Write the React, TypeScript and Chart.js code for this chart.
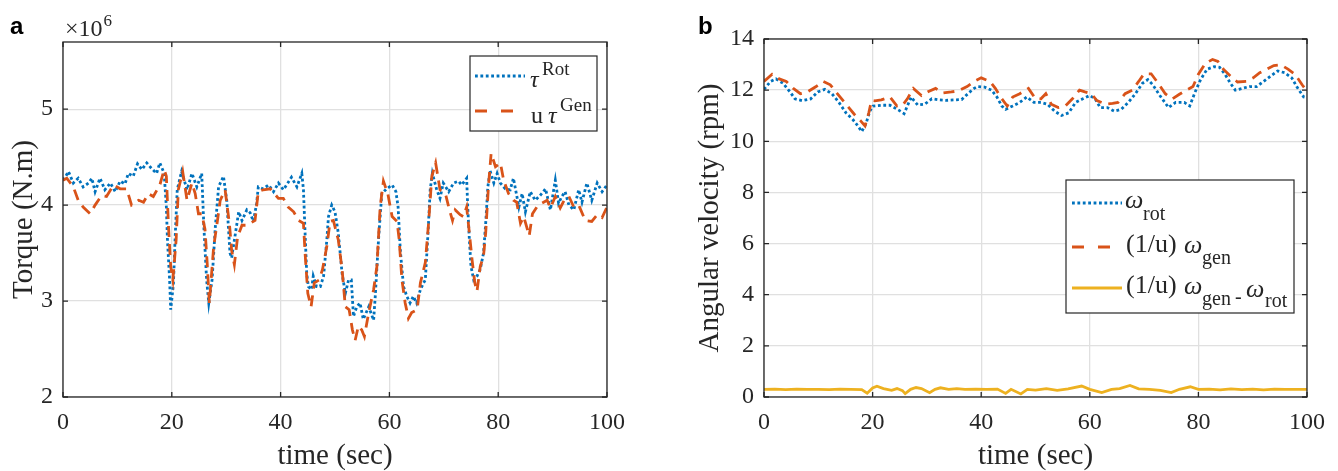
import React, { useEffect, useRef } from "react";
import { Chart, registerables } from "chart.js";

Chart.register(...registerables);

// ---------- data ----------
const timeTicks = [0, 20, 40, 60, 80, 100];
const torqueTicks = [2, 3, 4, 5];
const speedTicks = [0, 2, 4, 6, 8, 10, 12, 14];

// panel a : torque (x1e6 N.m) vs time (sec)
const tauRot: [number, number][] = [
  [0, 4.26], [0.5, 4.3], [1.0, 4.35], [1.9, 4.23], [2.8, 4.28], [3.7, 4.19], [4.7, 4.23], [5.3, 4.28],
  [5.9, 4.14], [6.8, 4.28], [7.7, 4.16], [8.7, 4.23], [9.6, 4.14], [10.5, 4.25], [11.4, 4.22], [12.0, 4.33],
  [12.9, 4.3], [13.7, 4.43], [14.5, 4.37], [15.4, 4.44], [16.3, 4.38], [17.2, 4.33], [17.8, 4.44], [18.6, 4.33],
  [19.0, 3.98], [19.2, 3.64], [19.6, 3.22], [19.8, 2.91], [20.3, 3.18], [20.6, 3.64], [21.0, 4.16], [21.8, 4.35],
  [22.8, 4.16], [23.7, 4.33], [24.6, 4.19], [25.5, 4.33], [25.9, 3.77], [26.4, 3.22], [26.8, 2.98], [27.4, 3.22],
  [28.0, 3.77], [28.6, 4.19], [29.5, 4.3], [30.1, 4.05], [30.7, 3.5], [31.0, 3.45], [31.6, 3.67], [32.3, 3.93],
  [32.9, 3.84], [33.8, 3.95], [34.4, 3.92], [35.0, 3.83], [35.6, 4.02], [35.9, 4.19], [36.8, 4.17], [37.8, 4.21],
  [38.7, 4.14], [39.6, 4.23], [40.5, 4.16], [41.1, 4.21], [42.0, 4.29], [43.0, 4.19], [43.9, 4.33], [44.2, 4.16],
  [44.5, 3.71], [44.8, 3.29], [45.1, 3.15], [45.7, 3.12], [46.0, 3.26], [46.6, 3.15], [47.3, 3.15], [47.9, 3.26],
  [48.5, 3.64], [48.8, 3.88], [49.4, 4.0], [50.0, 3.93], [50.6, 3.71], [51.3, 3.29], [51.9, 3.08], [52.5, 3.22],
  [53.0, 3.22], [53.4, 2.84], [54.0, 2.94], [54.6, 2.98], [55.2, 2.81], [56.2, 2.94], [57.1, 2.8], [57.4, 3.05],
  [58.0, 3.64], [58.6, 4.12], [59.5, 4.17], [60.5, 4.21], [61.2, 4.14], [61.6, 3.98], [62.0, 3.53], [62.6, 3.15],
  [63.2, 3.05], [63.8, 2.98], [64.4, 3.05], [65.0, 2.98], [65.7, 3.12], [66.3, 3.19], [66.6, 3.22], [67.1, 3.71],
  [67.5, 4.16], [67.9, 4.33], [68.7, 4.16], [69.3, 4.07], [69.9, 4.23], [70.9, 4.14], [71.8, 4.23], [72.7, 4.25],
  [73.3, 4.21], [74.2, 4.28], [74.4, 3.98], [74.7, 3.64], [75.0, 3.36], [75.5, 3.22], [76.1, 3.26], [76.7, 3.33],
  [77.3, 3.5], [77.7, 3.81], [78.1, 4.19], [78.5, 4.36], [79.2, 4.23], [79.8, 4.33], [80.4, 4.23], [81.3, 4.17],
  [82.2, 4.16], [82.8, 4.28], [83.8, 3.98], [84.4, 4.12], [85.0, 3.93], [85.9, 4.14], [86.8, 4.05], [87.7, 4.1],
  [88.7, 4.17], [89.6, 3.95], [90.5, 4.26], [91.1, 4.02], [91.7, 4.09], [92.3, 4.14], [93.0, 4.0], [93.9, 3.95],
  [94.8, 4.16], [95.4, 4.03], [96.3, 4.23], [97.2, 4.05], [98.2, 4.23], [99.1, 4.14], [100, 4.21],
];

const tauGen: [number, number][] = [
  [0, 4.26], [0.7, 4.28], [1.9, 4.19], [2.8, 4.05], [3.7, 3.98], [5.0, 3.91], [5.9, 4.0], [7.1, 4.1],
  [8.0, 4.09], [9.3, 4.21], [10.5, 4.17], [11.7, 4.17], [12.6, 4.0], [13.9, 4.05], [14.8, 4.03], [15.7, 4.12],
  [16.6, 4.09], [17.8, 4.21], [18.6, 4.37], [19.0, 4.3], [19.4, 3.77], [19.8, 3.36], [20.2, 3.22], [20.8, 3.64],
  [21.2, 4.16], [22.0, 4.35], [22.8, 4.05], [23.7, 4.23], [24.3, 4.12], [24.9, 3.91], [25.5, 3.91], [26.1, 3.75],
  [26.5, 3.4], [26.9, 2.98], [27.7, 3.57], [28.3, 3.8], [28.9, 4.05], [29.8, 4.16], [30.6, 3.8], [31.0, 3.53],
  [31.5, 3.38], [32.1, 3.67], [32.9, 3.79], [33.8, 3.79], [35.3, 3.84], [35.9, 4.14], [36.8, 4.16], [38.1, 4.17],
  [39.6, 4.07], [40.5, 4.07], [41.4, 3.98], [42.4, 3.93], [43.3, 3.84], [44.2, 3.81], [44.5, 3.5], [45.0, 3.08],
  [45.6, 2.94], [46.2, 3.19], [47.1, 3.22], [47.7, 3.33], [48.5, 3.57], [49.1, 3.83], [49.7, 3.84], [50.6, 3.64],
  [51.3, 3.33], [51.9, 2.94], [52.6, 2.91], [53.2, 2.7], [53.7, 2.59], [54.3, 2.74], [54.9, 2.7], [55.4, 2.63],
  [56.2, 2.88], [57.1, 3.12], [57.7, 3.36], [58.3, 3.98], [58.9, 4.25], [59.7, 4.12], [60.5, 3.88], [61.4, 3.83],
  [61.8, 3.64], [62.3, 3.22], [62.9, 2.98], [63.5, 2.82], [64.1, 2.88], [65.1, 2.91], [65.7, 3.19], [66.6, 3.4],
  [67.2, 3.81], [67.8, 4.3], [68.5, 4.44], [69.3, 4.16], [70.3, 4.12], [70.9, 3.98], [71.6, 3.84], [72.1, 3.95],
  [73.0, 3.9], [73.6, 3.88], [74.2, 3.98], [74.7, 3.71], [75.2, 3.43], [75.7, 3.19], [76.1, 3.1], [76.7, 3.36],
  [77.3, 3.47], [77.7, 3.71], [78.2, 4.19], [78.7, 4.54], [79.5, 4.4], [80.4, 4.44], [81.0, 4.26], [81.9, 4.12],
  [82.8, 4.05], [83.4, 4.03], [84.1, 3.81], [84.7, 3.88], [85.7, 3.68], [86.3, 3.91], [87.1, 3.98], [88.0, 4.02],
  [89.0, 4.05], [89.6, 3.97], [90.5, 4.09], [91.4, 3.97], [92.3, 4.07], [93.0, 4.09], [93.9, 3.98], [94.8, 4.0],
  [96.0, 3.84], [97.2, 3.83], [98.2, 3.9], [99.1, 3.87], [100, 3.98],
];

// panel b : angular velocity (rpm) vs time (sec)
const omegaRot: [number, number][] = [
  [0, 12.03], [1.2, 12.34], [2.2, 12.44], [3.5, 12.27], [4.8, 11.93], [5.7, 11.66], [7.0, 11.59], [8.6, 11.66],
  [9.9, 11.93], [11.2, 12.03], [12.5, 11.86], [13.8, 11.52], [15.1, 11.11], [16.4, 10.84], [17.3, 10.6], [18.0, 10.38],
  [18.8, 10.7], [19.5, 11.19], [20.1, 11.38], [21.6, 11.41], [23.2, 11.41], [24.8, 11.22], [25.8, 11.08], [27.1, 11.73],
  [28.3, 11.42], [29.6, 11.45], [30.9, 11.66], [32.2, 11.62], [33.5, 11.6], [35.1, 11.62], [36.4, 11.63], [37.7, 11.89],
  [38.7, 12.07], [39.3, 12.14], [40.6, 12.12], [41.9, 12.0], [42.9, 11.73], [43.8, 11.38], [44.5, 11.25], [45.8, 11.38],
  [47.1, 11.52], [48.4, 11.73], [49.7, 11.52], [51.0, 11.52], [52.2, 11.45], [53.5, 11.18], [54.8, 11.01], [56.1, 11.11],
  [57.4, 11.52], [58.7, 11.66], [60.0, 11.79], [61.0, 11.66], [61.9, 11.32], [63.2, 11.32], [64.5, 11.18], [65.8, 11.25],
  [67.1, 11.52], [68.4, 11.86], [69.7, 12.27], [70.7, 12.41], [71.6, 12.21], [72.9, 11.79], [74.5, 11.32], [75.8, 11.52],
  [77.4, 11.52], [78.4, 11.38], [79.4, 11.93], [80.4, 12.41], [81.6, 12.82], [82.9, 12.92], [83.9, 12.89], [84.9, 12.62],
  [85.9, 12.27], [86.8, 12.0], [88.1, 12.07], [89.4, 12.14], [90.7, 12.14], [92.0, 12.34], [93.3, 12.55], [94.6, 12.75],
  [95.9, 12.68], [97.2, 12.48], [98.1, 12.14], [99.4, 11.73], [100, 11.7],
];

const omegaGen: [number, number][] = [
  [0, 12.34], [1.5, 12.62], [2.8, 12.44], [4.1, 12.34], [5.4, 12.07], [6.7, 11.86], [8.0, 11.93], [9.6, 12.14],
  [10.9, 12.34], [12.2, 12.21], [13.5, 11.86], [15.1, 11.45], [16.7, 11.04], [17.8, 10.8], [18.6, 10.6], [19.3, 11.11],
  [19.8, 11.6], [20.4, 11.58], [21.6, 11.62], [23.2, 11.73], [24.5, 11.38], [25.5, 11.4], [26.4, 11.66], [27.5, 12.07],
  [29.0, 11.79], [30.3, 11.95], [31.6, 12.07], [32.9, 11.89], [34.5, 11.93], [35.8, 11.97], [37.4, 12.14], [38.7, 12.34],
  [40.0, 12.48], [41.6, 12.34], [42.6, 12.07], [43.8, 11.66], [44.8, 11.38], [45.8, 11.73], [47.1, 11.86], [48.7, 12.07],
  [50.0, 11.66], [51.0, 11.66], [51.9, 11.86], [52.9, 11.45], [54.2, 11.32], [55.5, 11.38], [56.8, 11.66], [58.1, 12.0],
  [59.1, 11.93], [60.3, 11.86], [61.3, 11.59], [62.9, 11.45], [64.2, 11.48], [65.2, 11.52], [66.5, 11.86], [67.8, 12.0],
  [69.0, 12.34], [70.0, 12.64], [71.3, 12.64], [72.6, 12.27], [73.9, 11.86], [75.2, 11.66], [76.5, 11.84], [77.8, 12.0],
  [79.0, 12.14], [80.0, 12.62], [81.3, 13.05], [82.6, 13.2], [83.6, 13.12], [84.6, 12.82], [85.9, 12.55], [87.2, 12.32],
  [88.8, 12.34], [90.1, 12.48], [91.3, 12.68], [92.6, 12.82], [93.9, 12.96], [95.2, 12.99], [96.5, 12.82], [97.8, 12.62],
  [99.1, 12.21], [100, 11.97],
];

const omegaDiff: [number, number][] = [
  [0, 0.3], [2, 0.31], [4, 0.29], [6, 0.31], [8, 0.3], [10, 0.3], [12, 0.29], [14, 0.31], [16, 0.3], [18, 0.29],
  [19, 0.15], [20, 0.35], [20.8, 0.42], [22, 0.33], [23.5, 0.26], [24.5, 0.33], [25.5, 0.25], [26, 0.13], [27, 0.3],
  [28, 0.37], [29, 0.33], [30.5, 0.17], [31.5, 0.3], [32.5, 0.36], [34, 0.3], [35.5, 0.33], [37, 0.3], [39, 0.31],
  [41, 0.3], [43, 0.31], [44.5, 0.14], [45.5, 0.3], [47.3, 0.12], [48.5, 0.3], [50, 0.27], [52, 0.33], [54, 0.26],
  [56, 0.32], [58.5, 0.43], [60, 0.3], [62.2, 0.17], [64, 0.3], [65.5, 0.33], [67.4, 0.45], [69, 0.32], [71, 0.3],
  [73, 0.26], [75, 0.17], [76.5, 0.3], [78.5, 0.4], [80, 0.3], [82, 0.31], [84, 0.28], [86, 0.32], [88, 0.29],
  [90, 0.31], [92, 0.28], [94, 0.31], [96, 0.3], [98, 0.3], [100, 0.3],
];

// ---------- styles ----------
const BLUE = "#0072BD";
const ORANGE = "#D95319";
const YELLOW = "#EDB120";
const INK = "#262626";
const GRID = "#e0e0e0";
const SERIF = "'Liberation Serif', 'Times New Roman', serif";
const SANS = "'Liberation Sans', Arial, sans-serif";
const LW = 2.8;
const DOT = [2.8, 2.6];
const DASH = [11, 7];

type Seg = { t: string; x: number; y: number; font: string };
type LegendItem = { x1: number; x2: number; y: number; color: string; dash: number[]; segs: Seg[] };
type PanelOpts = {
  letter: { t: string; x: number; y: number };
  yTitle: string;
  yTitleX: number;
  xTitleY: number;
  exponent?: boolean;
  legendBox: [number, number, number, number];
  legend: LegendItem[];
};

const pts = (arr: [number, number][]) => arr.map(([x, y]) => ({ x, y }));

const framePlugin = {
  id: "matlabFrame",
  afterDatasetsDraw(chart: any, _args: any, _o: PanelOpts) {
    const { ctx, chartArea: a } = chart;
    const xs = chart.scales.x;
    const ys = chart.scales.y;
    ctx.save();
    ctx.strokeStyle = INK;
    ctx.lineWidth = 1.3;
    ctx.beginPath();
    for (const t of xs.ticks) {
      const p = xs.getPixelForValue(t.value);
      ctx.moveTo(p, a.bottom);
      ctx.lineTo(p, a.bottom - 5);
      ctx.moveTo(p, a.top);
      ctx.lineTo(p, a.top + 5);
    }
    for (const t of ys.ticks) {
      const p = ys.getPixelForValue(t.value);
      ctx.moveTo(a.left, p);
      ctx.lineTo(a.left + 5, p);
      ctx.moveTo(a.right, p);
      ctx.lineTo(a.right - 5, p);
    }
    ctx.stroke();
    ctx.strokeRect(a.left, a.top, a.right - a.left, a.bottom - a.top);
    ctx.restore();
  },
  afterDraw(chart: any, _args: any, o: PanelOpts) {
    const { ctx, chartArea: a } = chart;
    ctx.save();
    ctx.textBaseline = "alphabetic";
    // panel letter
    ctx.fillStyle = "#000";
    ctx.font = `bold 24px ${SANS}`;
    ctx.textAlign = "left";
    ctx.fillText(o.letter.t, o.letter.x, o.letter.y);
    ctx.fillStyle = INK;
    // exponent
    if (o.exponent) {
      ctx.font = `24px ${SERIF}`;
      ctx.fillText("\u00d710", a.left + 2, 36);
      const w = ctx.measureText("\u00d710").width;
      ctx.font = `17px ${SERIF}`;
      ctx.fillText("6", a.left + 2 + w + 1, 26);
    }
    // x title
    ctx.font = `29px ${SERIF}`;
    ctx.textAlign = "center";
    ctx.fillText("time (sec)", (a.left + a.right) / 2, o.xTitleY);
    // y title
    ctx.save();
    ctx.translate(o.yTitleX, (a.top + a.bottom) / 2);
    ctx.rotate(-Math.PI / 2);
    ctx.fillText(o.yTitle, 0, 0);
    ctx.restore();
    // legend
    const [bx, by, bw, bh] = o.legendBox;
    ctx.fillStyle = "#fff";
    ctx.fillRect(bx, by, bw, bh);
    ctx.strokeStyle = INK;
    ctx.lineWidth = 1.2;
    ctx.strokeRect(bx, by, bw, bh);
    for (const it of o.legend) {
      ctx.save();
      ctx.strokeStyle = it.color;
      ctx.lineWidth = LW;
      ctx.setLineDash(it.dash);
      ctx.beginPath();
      ctx.moveTo(it.x1, it.y);
      ctx.lineTo(it.x2, it.y);
      ctx.stroke();
      ctx.restore();
      ctx.fillStyle = INK;
      ctx.textAlign = "left";
      for (const s of it.segs) {
        ctx.font = s.font;
        ctx.fillText(s.t, s.x, s.y);
      }
    }
    ctx.restore();
  },
};

function makeConfig(
  datasets: any[],
  yMin: number,
  yMax: number,
  yTicks: number[],
  pad: { top: number; right: number },
  yWidth: number,
  panel: PanelOpts
): any {
  return {
    type: "line",
    data: { datasets },
    options: {
      animation: false,
      responsive: false,
      devicePixelRatio: 1,
      layout: { padding: { top: pad.top, right: pad.right, left: 0, bottom: 0 } },
      plugins: { legend: { display: false }, tooltip: { enabled: false }, matlabFrame: panel },
      elements: { point: { radius: 0 }, line: { tension: 0 } },
      scales: {
        x: {
          type: "linear",
          min: 0,
          max: 100,
          afterBuildTicks: (s: any) => {
            s.ticks = timeTicks.map((v) => ({ value: v }));
          },
          afterFit: (s: any) => {
            s.height = 74;
          },
          grid: { color: GRID, lineWidth: 1.3, drawTicks: false },
          border: { display: false },
          ticks: {
            color: INK,
            padding: 11,
            maxRotation: 0,
            font: { family: SERIF, size: 24 },
            callback: (v: any) => String(v),
          },
        },
        y: {
          type: "linear",
          min: yMin,
          max: yMax,
          afterBuildTicks: (s: any) => {
            s.ticks = yTicks.map((v) => ({ value: v }));
          },
          afterFit: (s: any) => {
            s.width = yWidth;
          },
          grid: { color: GRID, lineWidth: 1.3, drawTicks: false },
          border: { display: false },
          ticks: {
            color: INK,
            padding: 10,
            font: { family: SERIF, size: 24 },
            callback: (v: any) => String(v),
          },
        },
      },
    },
    plugins: [framePlugin],
  };
}

const LEG_MAIN_A = `24px ${SERIF}`;
const LEG_GREEK_A = `italic 24px ${SERIF}`;
const LEG_SUP_A = `19px ${SERIF}`;
const LEG_MAIN_B = `26px ${SERIF}`;
const LEG_GREEK_B = `italic 26px ${SERIF}`;
const LEG_SUB_B = `20px ${SERIF}`;

function PanelA() {
  const ref = useRef<HTMLCanvasElement>(null);
  useEffect(() => {
    const panel: PanelOpts = {
      letter: { t: "a", x: 10, y: 34 },
      yTitle: "Torque (N.m)",
      yTitleX: 32,
      xTitleY: 464,
      exponent: true,
      legendBox: [470, 56, 127, 75],
      legend: [
        {
          x1: 475, x2: 525, y: 76, color: BLUE, dash: DOT,
          segs: [
            { t: "\u03c4", x: 530, y: 87, font: LEG_GREEK_A },
            { t: "Rot", x: 542, y: 75, font: LEG_SUP_A },
          ],
        },
        {
          x1: 475, x2: 517, y: 111, color: ORANGE, dash: [12, 14],
          segs: [
            { t: "u", x: 531, y: 123, font: LEG_MAIN_A },
            { t: "\u03c4", x: 548, y: 123, font: LEG_GREEK_A },
            { t: "Gen", x: 560, y: 111, font: LEG_SUP_A },
          ],
        },
      ],
    };
    const chart = new Chart(
      ref.current!,
      makeConfig(
        [
          { label: "tauRot", data: pts(tauRot), borderColor: BLUE, borderWidth: LW, borderDash: DOT, order: 2 },
          { label: "tauGen", data: pts(tauGen), borderColor: ORANGE, borderWidth: LW, borderDash: DASH, order: 1 },
        ],
        2,
        5.7,
        torqueTicks,
        { top: 42, right: 62 },
        63,
        panel
      )
    );
    return () => chart.destroy();
  }, []);
  return <canvas ref={ref} width={669} height={471} style={{ position: "absolute", left: 0, top: 0, width: 669, height: 471 }} />;
}

function PanelB() {
  const ref = useRef<HTMLCanvasElement>(null);
  useEffect(() => {
    const o = 669;
    const panel: PanelOpts = {
      letter: { t: "b", x: 698 - o, y: 34 },
      yTitle: "Angular velocity (rpm)",
      yTitleX: 718 - o,
      xTitleY: 464,
      legendBox: [1066 - o, 180, 228, 133],
      legend: [
        {
          x1: 1072 - o, x2: 1122 - o, y: 203, color: BLUE, dash: DOT,
          segs: [
            { t: "\u03c9", x: 1125 - o, y: 208, font: LEG_GREEK_B },
            { t: "rot", x: 1143 - o, y: 220, font: LEG_SUB_B },
          ],
        },
        {
          x1: 1072 - o, x2: 1112 - o, y: 247, color: ORANGE, dash: [12, 14],
          segs: [
            { t: "(1/u)", x: 1126 - o, y: 252, font: LEG_MAIN_B },
            { t: "\u03c9", x: 1184 - o, y: 253, font: LEG_GREEK_B },
            { t: "gen", x: 1202 - o, y: 264, font: LEG_SUB_B },
          ],
        },
        {
          x1: 1072 - o, x2: 1122 - o, y: 288, color: YELLOW, dash: [],
          segs: [
            { t: "(1/u)", x: 1126 - o, y: 293, font: LEG_MAIN_B },
            { t: "\u03c9", x: 1184 - o, y: 294, font: LEG_GREEK_B },
            { t: "gen", x: 1202 - o, y: 305, font: LEG_SUB_B },
            { t: "-", x: 1235 - o, y: 303, font: LEG_SUB_B },
            { t: "\u03c9", x: 1246 - o, y: 297, font: LEG_GREEK_B },
            { t: "rot", x: 1265 - o, y: 307, font: LEG_SUB_B },
          ],
        },
      ],
    };
    const chart = new Chart(
      ref.current!,
      makeConfig(
        [
          { label: "omegaRot", data: pts(omegaRot), borderColor: BLUE, borderWidth: LW, borderDash: DOT, order: 2 },
          { label: "omegaGen", data: pts(omegaGen), borderColor: ORANGE, borderWidth: LW, borderDash: DASH, order: 1 },
          { label: "omegaDiff", data: pts(omegaDiff), borderColor: YELLOW, borderWidth: LW, order: 0 },
        ],
        0,
        14,
        speedTicks,
        { top: 39, right: 31 },
        95,
        panel
      )
    );
    return () => chart.destroy();
  }, []);
  return <canvas ref={ref} width={669} height={471} style={{ position: "absolute", left: 669, top: 0, width: 669, height: 471 }} />;
}

export default function App() {
  return (
    <div style={{ position: "absolute", left: 0, top: 0, width: 1338, height: 471, background: "#fff" }}>
      <PanelA />
      <PanelB />
    </div>
  );
}
